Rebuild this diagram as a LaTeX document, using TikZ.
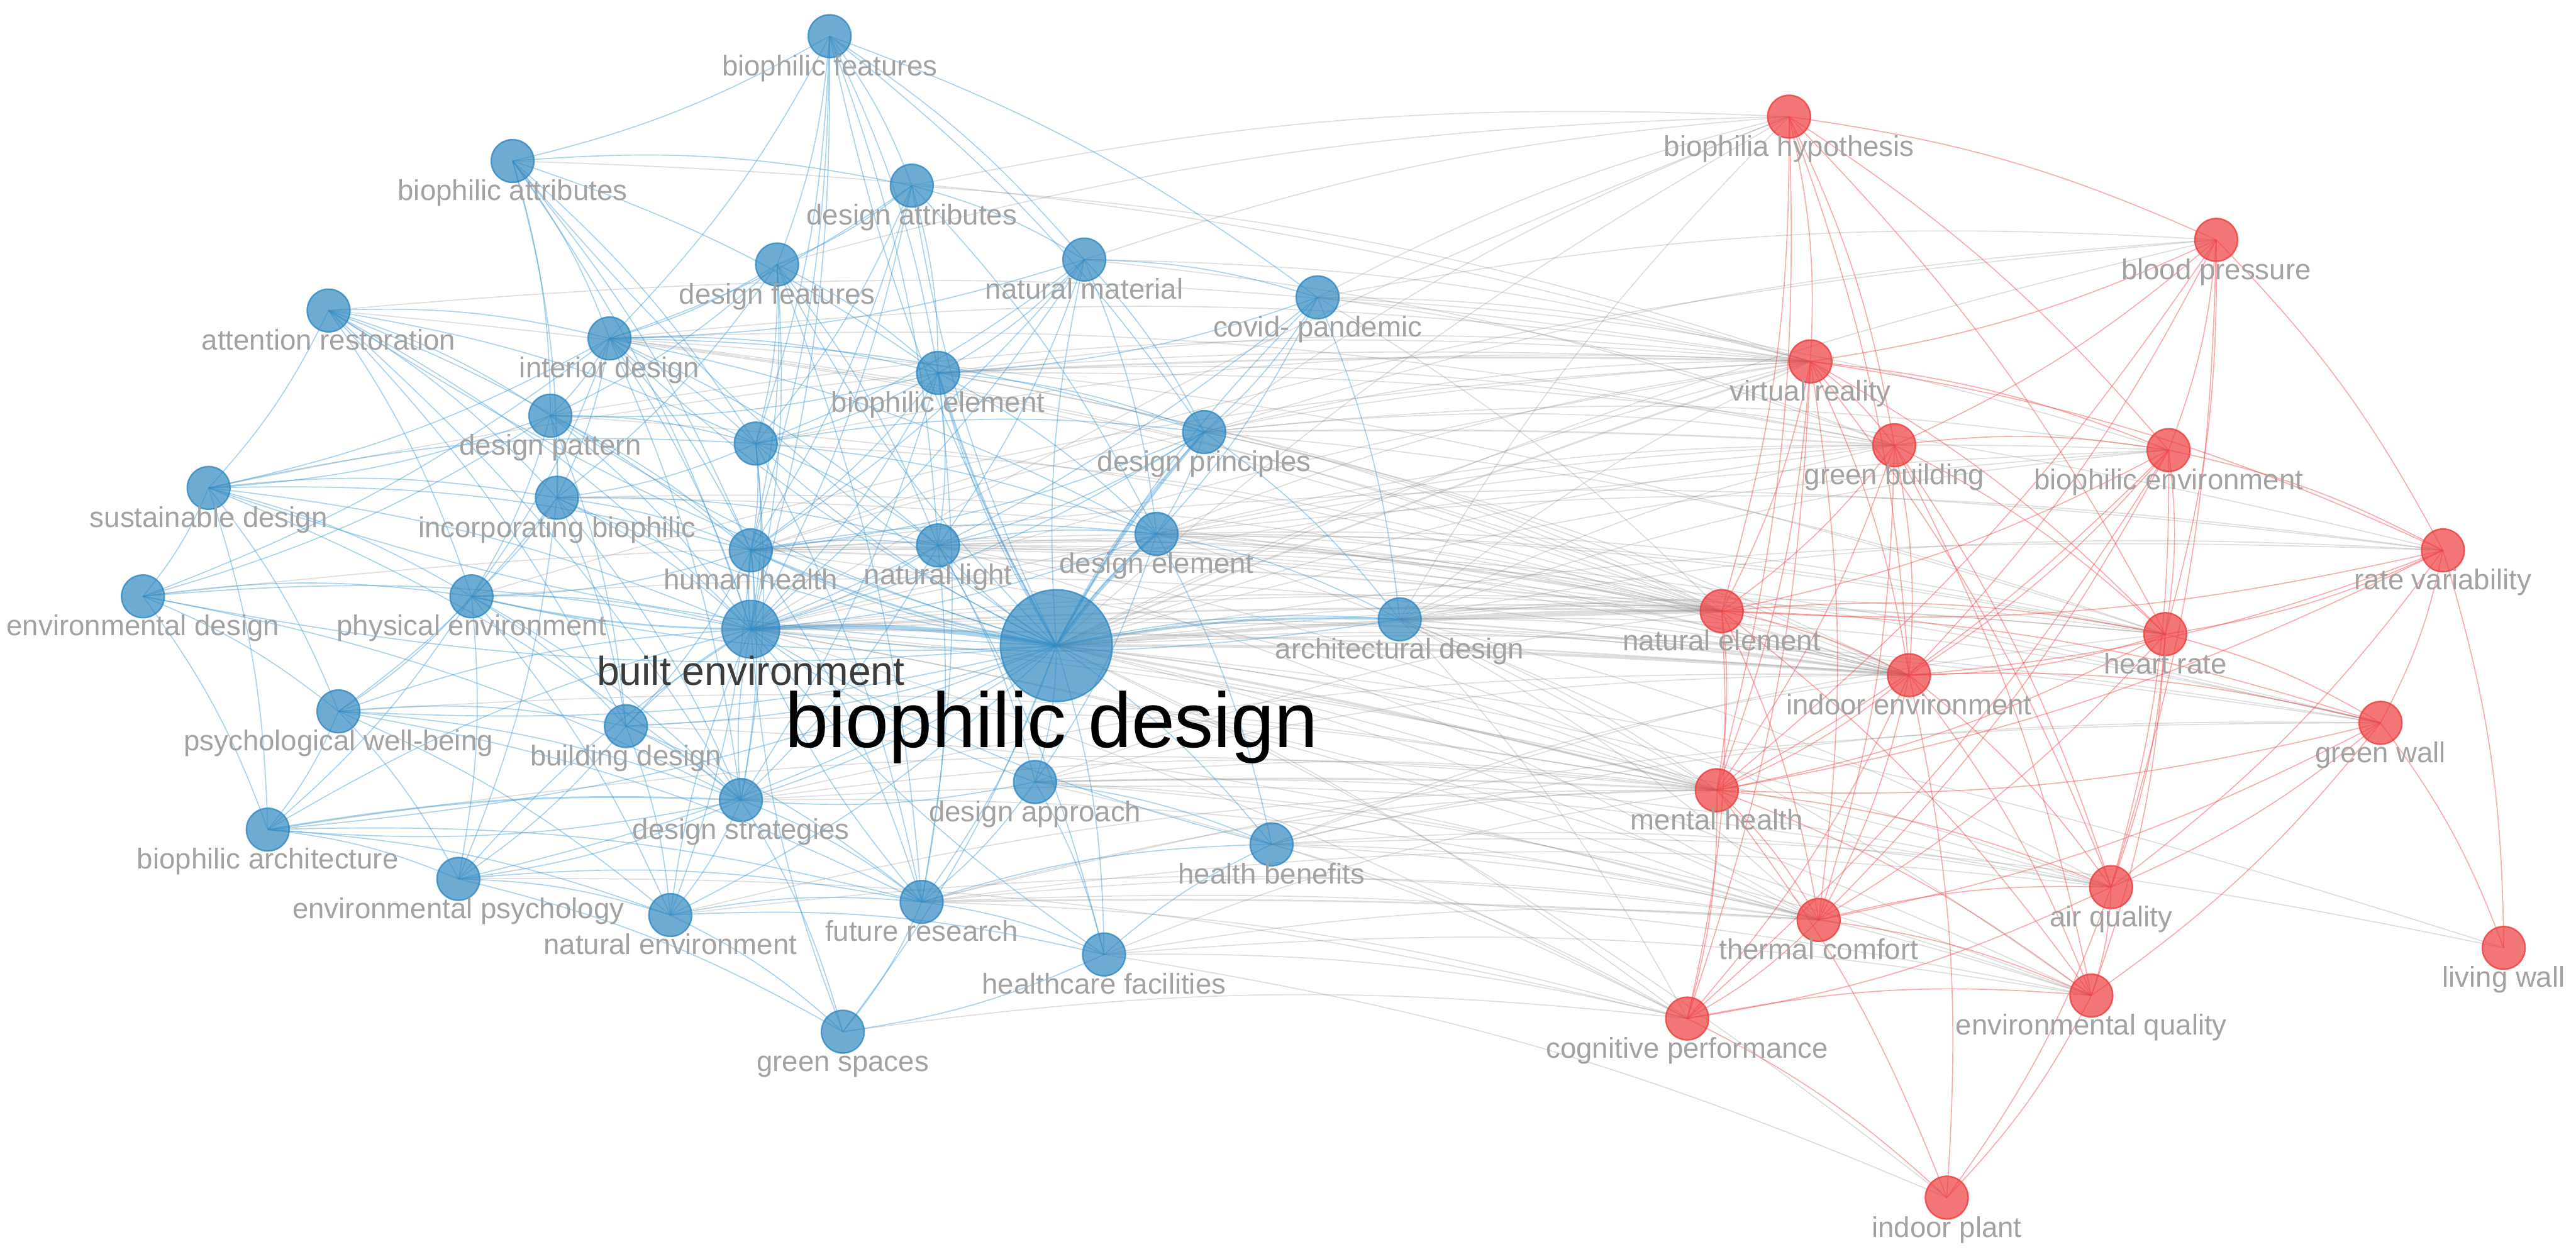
\documentclass[tikz,border=0pt]{standalone}
\usepackage{fontspec}
\setmainfont{Liberation Sans}
\usetikzlibrary{backgrounds}
\definecolor{vblue}{HTML}{3189C2}
\definecolor{vred}{HTML}{EE4242}
\definecolor{lblgrey}{HTML}{A2A2A2}
\definecolor{benink}{HTML}{3C3C3C}
\definecolor{linkblue}{HTML}{3A95D2}
\definecolor{linkred}{HTML}{F24848}
\definecolor{linkgrey}{HTML}{808080}
\newcommand\kwfont{\fontsize{14.9}{17}\selectfont}
\newcommand\benfont{\fontsize{21}{24}\selectfont}
\newcommand\bdfont{\fontsize{40.5}{46}\selectfont}
\tikzset{
    every picture/.style={line cap=round,line join=round},
    kwblue/.style={circle,minimum size=7.8mm,inner sep=0pt,
      fill=vblue,fill opacity=0.7,draw=vblue,draw opacity=0.8,line width=0.8pt},
    kwred/.style={circle,minimum size=7.8mm,inner sep=0pt,
      fill=vred,fill opacity=0.72,draw=vred,draw opacity=0.85,line width=0.8pt},
    kwlabel/.style={anchor=base,inner sep=0pt,text=lblgrey,font=\kwfont},
    bluelink/.style={draw=linkblue,draw opacity=0.42,line width=0.55pt},
    redlink/.style={draw=linkred,draw opacity=0.45,line width=0.55pt},
    greylink/.style={draw=linkgrey,draw opacity=0.26,line width=0.55pt}
}
\begin{document}
\begin{tikzpicture}[x=0.3mm,y=-0.3mm]
  \useasboundingbox (0,0) rectangle (1568,763);
  % blue cluster
  \foreach \n/\x/\y/\t in {bf/505/22/biophilic features,ba/312/98/biophilic attributes,
      da/555/113/design attributes,df/473/161/design features,nm/660/158/natural material,
      cp/802/181/covid- pandemic,ar/200/189/attention restoration,id/371/206/interior design,
      be/571/227/biophilic element,dp/335/253/design pattern,dpr/733/263/design principles,
      sd/127/297/sustainable design,ib/339/303/incorporating biophilic,hh/457/335/human health,
      nl/571/332/natural light,de/704/325/design element,ed/87/363/environmental design,
      pe/287/363/physical environment,ad/852/377/architectural design,
      pw/206/433/psychological well-being,bld/381/442/building design,
      dap/630/476/design approach,ds/451/487/design strategies,
      bar/163/505/biophilic architecture,hb/774/514/health benefits,
      ep/279/535/environmental psychology,ne/408/557/natural environment,
      fr/561/549/future research,hf/672/581/healthcare facilities,gs/513/628/green spaces} {
    \node[kwblue] (\n) at (\x,\y) {};
    \node[kwlabel] (\n-l) at (\x,\y+24) {\t};
  }
  \node[kwblue] (un) at (460,270) {};
  \node[kwblue,minimum size=10.5mm] (ben) at (457,383) {};
  \node[kwlabel,font=\benfont,text=benink] (ben-l) at (457,417) {built environment};
  \node[kwblue,minimum size=20.4mm] (bd) at (643,393) {};
  \node[kwlabel,font=\bdfont,text=black] (bd-l) at (640,455) {biophilic design};
  % red cluster
  \foreach \n/\x/\y/\t in {bh/1089/71/biophilia hypothesis,bp/1349/146/blood pressure,
      vr/1102/220/virtual reality,gb/1153/271/green building,
      benv/1320/274/biophilic environment,rv/1487/335/rate variability,
      nel/1048/372/natural element,hr/1318/386/heart rate,ie/1162/411/indoor environment,
      gw/1449/440/green wall,mh/1045/481/mental health,tc/1107/560/thermal comfort,
      aq/1285/540/air quality,lw/1524/577/living wall,cpf/1027/620/cognitive performance,
      eq/1273/606/environmental quality,ip/1185/729/indoor plant} {
    \node[kwred] (\n) at (\x,\y) {};
    \node[kwlabel] (\n-l) at (\x,\y+24) {\t};
  }
  % links
  \begin{scope}[on background layer]
    % between clusters
    \foreach \b in {bh,bp,vr,gb,benv,rv,nel,hr,ie,gw,mh,tc,aq,lw,cpf,eq,ip}
      \draw[greylink] (bd.center) to[bend left=6] (\b.center);
    \foreach \b in {bh,vr,gb,nel,hr,ie,mh,tc,cpf,aq,eq,benv,gw}
      \draw[greylink] (ben.center) to[bend left=5] (\b.center);
    \foreach \a/\b in {hh/nel,hh/ie,hh/mh,hh/vr,hh/hr,hh/bp,hh/gw,hh/rv,nl/nel,nl/ie,
        nl/mh,nl/tc,nl/hr,nl/gw,de/nel,de/ie,de/vr,de/mh,de/hr,de/gb,de/rv,de/benv,
        ad/nel,ad/ie,ad/mh,ad/vr,ad/hr,ad/gw,ad/benv,ad/gb,ad/tc,ad/aq,ad/rv,ad/cpf,
        ad/eq,ad/bh,dpr/vr,dpr/nel,dpr/ie,dpr/bh,dpr/gb,dpr/benv,dpr/hr,dpr/bp,
        cp/bh,cp/vr,cp/gb,cp/benv,cp/bp,cp/nel,nm/bh,nm/vr,nm/gb,id/vr,id/nel,id/ie,
        id/gb,id/hr,be/nel,be/ie,be/vr,be/gb,be/rv,df/bh,da/bh,da/vr,fr/cpf,
        fr/tc,fr/mh,fr/eq,fr/aq,fr/gw,hb/mh,hb/tc,hb/aq,hb/cpf,hb/eq,hb/ie,
        hb/hr,hb/gw,hb/lw,dap/mh,dap/nel,dap/ie,dap/tc,dap/aq,dap/eq,dap/cpf,hf/cpf,
        hf/eq,hf/ip,hf/tc,hf/mh,ds/mh,ds/tc,ds/aq,ds/ie,ne/tc,ne/mh,pe/ie,pe/vr,
        un/vr,un/nel,ar/vr,ar/nel,ba/vr,ib/nel,ib/ie,bld/mh,bld/tc,gs/cpf,dp/ie,
        dp/vr,ed/nel,pw/mh,sd/vr,ep/cpf,bar/mh}
      \draw[greylink] (\a.center) to[bend left=7] (\b.center);
    \foreach \a/\b/\w in {bd/nel/1.8pt,bd/ie/1.5pt,bd/mh/1.3pt,bd/vr/1pt,ben/nel/1pt,
        ben/ie/0.9pt,be/vr/1pt,dpr/gb/0.9pt,de/nel/0.9pt,dap/mh/1pt,fr/tc/0.9pt,
        hh/nel/0.9pt,ad/nel/1pt,ad/ie/0.9pt}
      \draw[greylink,line width=\w] (\a.center) to[bend left=2] (\b.center);
    % blue cluster
    \foreach \b in {bf,ba,da,df,nm,cp,ar,id,be,dp,un,dpr,sd,ib,hh,nl,de,ed,pe,ad,pw,
        bld,dap,ds,bar,hb,ep,ne,fr,hf,gs}
      \draw[bluelink] (bd.center) to[bend left=8] (\b.center);
    \foreach \b in {bf,ba,da,df,nm,cp,ar,id,be,dp,un,dpr,sd,ib,hh,nl,de,ed,pe,ad,pw,
        bld,dap,ds,bar,hb,ep,ne,fr,hf,gs}
      \draw[bluelink] (ben.center) to[bend right=8] (\b.center);
    \foreach \a/\b in {bf/ba,bf/da,bf/df,bf/id,bf/be,bf/nm,bf/hh,bf/un,bf/cp,bf/nl,bf/dpr,
        ba/da,ba/id,ba/dp,ba/ib,ba/un,ba/be,ba/hh,da/df,da/be,da/nm,da/un,da/de,da/hh,
        da/id,df/id,df/be,df/un,df/nl,df/hh,df/dp,df/ib,df/fr,nm/be,nm/de,nm/dpr,nm/un,
        nm/nl,nm/cp,nm/hh,nm/id,cp/dpr,cp/de,cp/be,cp/ad,ar/id,ar/dp,ar/ib,ar/pe,ar/sd,
        ar/hh,ar/un,ar/bld,ar/ds,id/dp,id/un,id/be,id/ib,id/hh,id/pe,id/sd,id/ed,id/nl,
        id/ds,id/dpr,id/de,be/un,be/dpr,be/nl,be/de,be/hh,be/dp,be/fr,be/ds,dp/un,dp/ib,
        dp/pe,dp/hh,dp/sd,dp/bld,dp/ed,un/hh,un/nl,un/dpr,un/de,un/ib,un/ds,un/fr,
        dpr/de,dpr/nl,dpr/hh,dpr/ad,sd/ib,sd/pe,sd/ed,sd/pw,sd/bar,sd/hh,sd/ds,sd/un,
        ib/hh,ib/pe,ib/pw,ib/nl,ib/bld,ib/ds,ib/ep,hh/nl,hh/ds,hh/bld,hh/fr,hh/ne,hh/pe,
        hh/de,nl/de,nl/dap,nl/ds,nl/fr,nl/hf,de/ad,de/dap,de/hb,ed/pe,ed/pw,ed/bar,ed/ds,
        pe/pw,pe/bar,pe/bld,pe/ds,pe/ep,pe/ne,pw/bar,pw/ep,pw/bld,pw/ne,pw/ds,pw/fr,
        bld/ds,bld/ne,bld/ep,bld/fr,dap/ds,dap/fr,dap/hb,dap/hf,ds/bar,ds/ep,ds/ne,ds/fr,
        ds/gs,bar/ep,bar/ne,bar/fr,ep/ne,ep/fr,ep/gs,ne/fr,ne/gs,ne/hf,fr/gs,fr/hf,fr/hb,
        hf/hb,hf/gs}
      \draw[bluelink] (\a.center) to[bend left=8] (\b.center);
    \foreach \a/\b/\w in {ben/bd/2.4pt,bd/de/1.6pt,bd/dpr/1.3pt,bd/be/1.1pt,bd/hh/1pt,
        bd/ad/1pt,ben/hh/0.9pt,ben/pe/0.9pt,bar/ds/0.9pt}
      \draw[bluelink,line width=\w] (\a.center) to[bend left=6] (\b.center);
    % red cluster
    \foreach \a/\b in {bh/vr,bh/bp,bh/gb,bh/benv,bh/hr,bh/nel,bh/ie,bh/mh,bp/vr,bp/benv,
        bp/rv,bp/hr,bp/ie,bp/gb,bp/aq,bp/mh,vr/gb,vr/benv,vr/hr,vr/nel,vr/ie,vr/mh,vr/tc,
        vr/cpf,vr/rv,vr/aq,gb/benv,gb/ie,gb/nel,gb/mh,gb/tc,gb/aq,gb/eq,gb/hr,benv/rv,
        benv/hr,benv/ie,benv/nel,benv/mh,benv/aq,benv/tc,benv/cpf,rv/hr,rv/gw,rv/ie,
        rv/nel,rv/aq,rv/mh,rv/lw,nel/ie,nel/mh,nel/hr,nel/tc,nel/cpf,nel/eq,nel/gw,hr/ie,
        hr/gw,hr/mh,hr/aq,hr/eq,hr/tc,ie/mh,ie/tc,ie/aq,ie/eq,ie/gw,ie/cpf,ie/ip,gw/mh,
        gw/aq,gw/eq,gw/lw,gw/tc,mh/tc,mh/aq,mh/cpf,mh/eq,mh/ip,tc/aq,tc/cpf,tc/eq,aq/eq,
        aq/cpf,aq/ip,cpf/eq,cpf/ip,eq/ip}
      \draw[redlink] (\a.center) to[bend left=8] (\b.center);
  \end{scope}
\end{tikzpicture}
\end{document}
